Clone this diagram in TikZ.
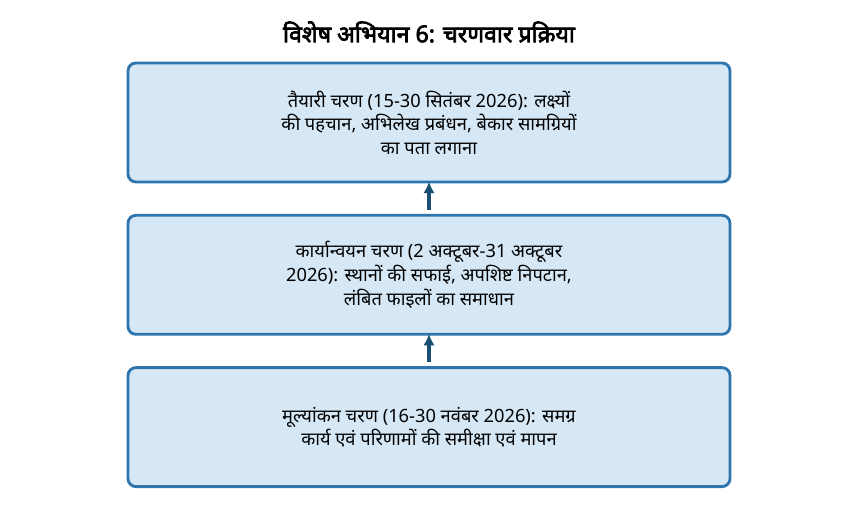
\documentclass[tikz,border=0pt]{standalone}
\usepackage{fontspec}
\setmainfont[Script=Devanagari,BoldFont={Noto Sans},BoldFeatures={FakeBold=3}]{Noto Sans}
\usetikzlibrary{positioning,arrows.meta}
\definecolor{phasefill}{HTML}{D6E8F6}
\definecolor{phaseedge}{HTML}{2E74AD}
\definecolor{arrowcol}{HTML}{1B4F72}
\tikzset{phase/.style={draw=phaseedge,line width=1.6pt,fill=phasefill,rounded corners=4.5pt,minimum width=12.04cm,minimum height=2.38cm,align=center,font=\fontsize{10.4pt}{13.4pt}\selectfont},
flow/.style={-{Latex[length=6.5pt,width=6.5pt]},line width=1.8pt,draw=arrowcol}}
\begin{document}
\begin{tikzpicture}
\useasboundingbox (0,0) rectangle (17.16,-10.52);
\node[font=\bfseries\fontsize{13.2pt}{15pt}\selectfont] at (8.58,-0.64) (title) {विशेष अभियान 6: चरणवार प्रक्रिया};
\node[phase] at (8.58,-2.45) (prep) {तैयारी चरण (15-30 सितंबर 2026): लक्ष्यों\\की पहचान, अभिलेख प्रबंधन, बेकार सामग्रियों\\का पता लगाना};
\node[phase,below=0.61cm of prep] (impl) {कार्यान्वयन चरण (2 अक्टूबर-31 अक्टूबर\\2026): स्थानों की सफाई, अपशिष्ट निपटान,\\लंबित फाइलों का समाधान};
\node[phase,below=0.61cm of impl] (eval) {मूल्यांकन चरण (16-30 नवंबर 2026): समग्र\\कार्य एवं परिणामों की समीक्षा एवं मापन};
\draw[flow] ([yshift=2.5pt]eval.north) -- ([yshift=1pt]impl.south);
\draw[flow] ([yshift=2.5pt]impl.north) -- ([yshift=1pt]prep.south);
\end{tikzpicture}
\end{document}
